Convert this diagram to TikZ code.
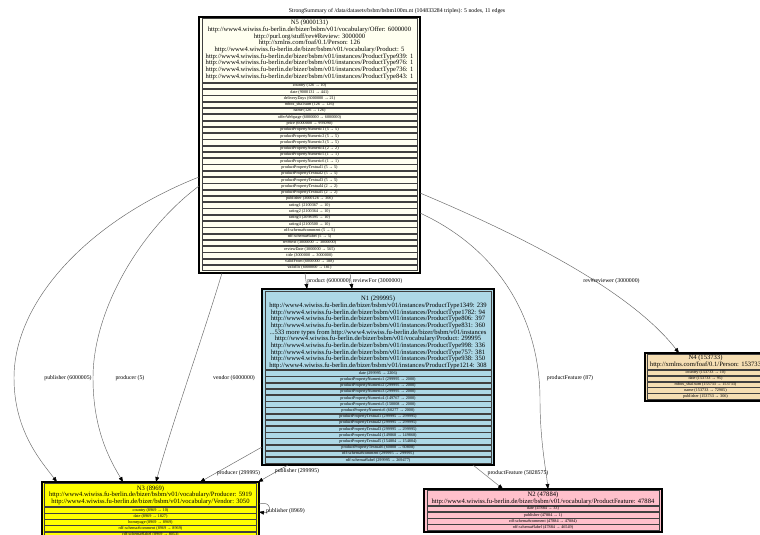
\documentclass[tikz,border=0pt]{standalone}
\usepackage{fontspec}
\setmainfont{Liberation Serif}
\usetikzlibrary{arrows.meta,calc}
\definecolor{cN5}{HTML}{FFFFF0}
\definecolor{cN1}{HTML}{ADD8E6}
\definecolor{cN4}{HTML}{F5DEB3}
\definecolor{cN3}{HTML}{FFFF00}
\definecolor{cN2}{HTML}{FFC0CB}
\newcommand\hdrfont{\fontsize{6.6}{6.7}\selectfont}
\newcommand\rowfont{\fontsize{4.2}{5}\selectfont}
\newcommand\lblfont{\fontsize{5.8}{6.5}\selectfont}
\begin{document}
\begin{tikzpicture}[x=1pt,y=-1pt,
  outerbox/.style={draw=black, line width=2.4pt, inner sep=0pt, outer sep=0pt},
  cellbox/.style={draw=black!75, line width=0.5pt, inner sep=0pt, outer sep=0pt},
  rowcell/.style={cellbox, minimum height=5.5pt, font=\rowfont},
  hdrtext/.style={inner sep=0pt, align=center, font=\hdrfont},
  elabel/.style={inner sep=0pt, font=\lblfont},
  conn/.style={draw=black!60, line width=0.45pt, -{Triangle[length=5pt,width=3.8pt,color=black]}}
]
\useasboundingbox (0,0) rectangle (760,535);
\clip (0,0) rectangle (760,535);
\fill[white] (0,0) rectangle (760,535);

\node[elabel, font=\lblfont] (ttl) at (397,11.5) {StrongSummary of /data/datasets/bsbm/bsbm100m.nt (104833284 triples): 5 nodes, 11 edges};

% ---------- N5 ----------
\node[outerbox, fill=cN5, minimum width=221pt, minimum height=256pt] (n5) at (309.5,145) {};
\node[cellbox, fill=cN5, minimum width=214.6pt, minimum height=63.8pt] (n5hc) at (309.5,50.5) {};
\node[hdrtext] (n5h) at (309.5,50) {N5 (9000131)\\
http://www4.wiwiss.fu-berlin.de/bizer/bsbm/v01/vocabulary/Offer: 6000000\\
http://purl.org/stuff/rev\#Review: 3000000\\
http://xmlns.com/foaf/0.1/Person: 126\\
http://www4.wiwiss.fu-berlin.de/bizer/bsbm/v01/vocabulary/Product: 5\\
http://www4.wiwiss.fu-berlin.de/bizer/bsbm/v01/instances/ProductType939: 1\\
http://www4.wiwiss.fu-berlin.de/bizer/bsbm/v01/instances/ProductType976: 1\\
http://www4.wiwiss.fu-berlin.de/bizer/bsbm/v01/instances/ProductType736: 1\\
http://www4.wiwiss.fu-berlin.de/bizer/bsbm/v01/instances/ProductType843: 1};
\foreach \t [count=\i from 0] in {
{country (126 → 10)},
{date (9000131 → 441)},
{deliveryDays (6000000 → 21)},
{mbox\_sha1sum (126 → 126)},
{name (126 → 126)},
{offerWebpage (6000000 → 6000000)},
{price (6000000 → 993090)},
{productPropertyNumeric1 (5 → 5)},
{productPropertyNumeric2 (5 → 5)},
{productPropertyNumeric3 (5 → 5)},
{productPropertyNumeric4 (2 → 2)},
{productPropertyNumeric5 (1 → 1)},
{productPropertyNumeric6 (1 → 1)},
{productPropertyTextual1 (5 → 5)},
{productPropertyTextual2 (5 → 5)},
{productPropertyTextual3 (5 → 5)},
{productPropertyTextual4 (2 → 2)},
{productPropertyTextual5 (2 → 2)},
{publisher (3000126 → 306)},
{rating1 (2100367 → 10)},
{rating2 (2100364 → 10)},
{rating3 (2098395 → 10)},
{rating4 (2100500 → 10)},
{rdf-schema\#comment (5 → 5)},
{rdf-schema\#label (5 → 5)},
{rev\#text (3000000 → 3000000)},
{reviewDate (3000000 → 565)},
{title (3000000 → 3000000)},
{validFrom (6000000 → 188)},
{validTo (6000000 → 181)}}
  \node[rowcell, fill=cN5, minimum width=214.6pt] (n5r\i) at (309.5,{85.85+6.28*\i}) {\t};

% ---------- N1 ----------
\node[outerbox, fill=cN1, minimum width=232pt, minimum height=176pt] (n1) at (378,377) {};
\node[cellbox, fill=cN1, minimum width=225.6pt, minimum height=78.9pt] (n1hc) at (378,330.25) {};
\node[hdrtext] (n1h) at (378,332.6) {N1 (299995)\\
http://www4.wiwiss.fu-berlin.de/bizer/bsbm/v01/instances/ProductType1349: 239\\
http://www4.wiwiss.fu-berlin.de/bizer/bsbm/v01/instances/ProductType1782: 94\\
http://www4.wiwiss.fu-berlin.de/bizer/bsbm/v01/instances/ProductType806: 397\\
http://www4.wiwiss.fu-berlin.de/bizer/bsbm/v01/instances/ProductType831: 360\\
...533 more types from http://www4.wiwiss.fu-berlin.de/bizer/bsbm/v01/instances\\
http://www4.wiwiss.fu-berlin.de/bizer/bsbm/v01/vocabulary/Product: 299995\\
http://www4.wiwiss.fu-berlin.de/bizer/bsbm/v01/instances/ProductType998: 336\\
http://www4.wiwiss.fu-berlin.de/bizer/bsbm/v01/instances/ProductType757: 381\\
http://www4.wiwiss.fu-berlin.de/bizer/bsbm/v01/instances/ProductType938: 350\\
http://www4.wiwiss.fu-berlin.de/bizer/bsbm/v01/instances/ProductType1214: 308};
\foreach \t [count=\i from 0] in {
{date (299995 → 2206)},
{productPropertyNumeric1 (299995 → 2000)},
{productPropertyNumeric2 (299995 → 2000)},
{productPropertyNumeric3 (299995 → 2000)},
{productPropertyNumeric4 (149767 → 2000)},
{productPropertyNumeric5 (150008 → 2000)},
{productPropertyNumeric6 (60277 → 2000)},
{productPropertyTextual1 (299995 → 299995)},
{productPropertyTextual2 (299995 → 299995)},
{productPropertyTextual3 (299995 → 299995)},
{productPropertyTextual4 (149868 → 149868)},
{productPropertyTextual5 (154804 → 154804)},
{productPropertyTextual6 (60808 → 60808)},
{rdf-schema\#comment (299995 → 299995)},
{rdf-schema\#label (299995 → 269477)}}
  \node[rowcell, fill=cN1, minimum width=225.6pt] (n1r\i) at (378,{373.25+6.2*\i}) {\t};

% ---------- N4 ----------
\node[outerbox, fill=cN4, minimum width=121pt, minimum height=48pt] (n4) at (705.5,377) {};
\node[cellbox, fill=cN4, minimum width=115.6pt, minimum height=15.2pt] (n4hc) at (705.5,362) {};
\node[hdrtext] (n4h) at (705.5,361.6) {N4 (153733)\\ http://xmlns.com/foaf/0.1/Person: 153733};
\foreach \t [count=\i from 0] in {
{country (153733 → 10)},
{date (153733 → 95)},
{mbox\_sha1sum (153733 → 153733)},
{name (153733 → 72905)},
{publisher (153733 → 306)}}
  \node[rowcell, fill=cN4, minimum width=115.6pt] (n4r\i) at (705.5,{372.7+5.9*\i}) {\t};

% ---------- N3 ----------
\node[outerbox, fill=cN3, minimum width=217pt, minimum height=59pt] (n3) at (150.5,511.5) {};
\node[cellbox, fill=cN3, minimum width=211.6pt, minimum height=22.9pt] (n3hc) at (150.5,495.05) {};
\node[hdrtext] (n3h) at (150.5,495.2) {N3 (8969)\\
http://www4.wiwiss.fu-berlin.de/bizer/bsbm/v01/vocabulary/Producer: 5919\\
http://www4.wiwiss.fu-berlin.de/bizer/bsbm/v01/vocabulary/Vendor: 3050};
\foreach \t [count=\i from 0] in {
{country (8969 → 10)},
{date (8969 → 1827)},
{homepage (8969 → 8969)},
{rdf-schema\#comment (8969 → 8969)},
{rdf-schema\#label (8969 → 8053)}}
  \node[rowcell, fill=cN3, minimum width=211.6pt] (n3r\i) at (150.5,{510+6.15*\i}) {\t};

% ---------- N2 ----------
\node[outerbox, fill=cN2, minimum width=238pt, minimum height=43pt] (n2) at (543,510.5) {};
\node[cellbox, fill=cN2, minimum width=231.6pt, minimum height=15pt] (n2hc) at (543,498.1) {};
\node[hdrtext] (n2h) at (543,498.4) {N2 (47884)\\ http://www4.wiwiss.fu-berlin.de/bizer/bsbm/v01/vocabulary/ProductFeature: 47884};
\foreach \t [count=\i from 0] in {
{date (47884 → 33)},
{publisher (47884 → 1)},
{rdf-schema\#comment (47884 → 47884)},
{rdf-schema\#label (47884 → 46549)}}
  \node[rowcell, fill=cN2, minimum width=231.6pt] (n2r\i) at (543,{508.8+6.2*\i}) {\t};

% ---------- edges ----------
\draw[conn] ($(n5.north west)+(0,160)$) .. controls (90,220) and (14,300) .. (14,378)
  .. controls (14,430) and (40,460) .. ($(n3.north west)+(15,0)$);
\node[elabel] (e1) at (68,378) {publisher (6000005)};

\draw[conn] ($(n5.north west)+(0,169)$) .. controls (140,230) and (93,310) .. (93,378)
  .. controls (93,430) and (110,460) .. ($(n3.north west)+(81,0)$);
\node[elabel] (e2) at (130,378) {producer (5)};

\draw[conn] ($(n5.south west)+(23,0)$) .. controls (205,330) and (170,430) .. ($(n3.north west)+(114,0)$);
\node[elabel] (e3) at (234,378) {vendor (6000000)};

\draw[conn] ($(n5.south)+(-4.5,0)$) -- ($(n1.north west)+(45,0)$);
\node[elabel] (e4) at (329,281) {product (6000000)};

\draw[conn] ($(n5.south)+(40.5,0)$) -- ($(n1.north west)+(90,0)$);
\node[elabel] (e5) at (377.5,281) {reviewFor (3000000)};

\draw[conn] ($(n5.north east)+(0,176)$) .. controls (520,235) and (630,290) .. ($(n4.north west)+(34,0)$);
\node[elabel] (e6) at (611.5,281) {rev\#reviewer (3000000)};

\draw[conn] ($(n5.north east)+(0,196)$) .. controls (500,250) and (540,320) .. (540,400)
  .. controls (540,440) and (546,470) .. ($(n2.north west)+(124,0)$);
\node[elabel] (e7) at (570,378) {productFeature (87)};

\draw[conn] ($(n1.north west)+(0,158)$) -- ($(n3.north west)+(158,0)$);
\node[elabel] (e8) at (238.5,473) {producer (299995)};

\draw[conn] ($(n1.south west)+(26,0)$) -- ($(n3.north east)+(-1,0)$);
\node[elabel] (e9) at (297,471) {publisher (299995)};

\draw[conn] ($(n1.south west)+(211,0)$) -- ($(n2.north west)+(79,0)$);
\node[elabel] (e10) at (518,473) {productFeature (5828575)};

\draw[conn] ($(n3.north east)+(0,22)$) .. controls (272,500) and (272,514) .. ($(n3.north east)+(0,30)$);
\node[elabel, anchor=west] (e11) at (266,511) {publisher (8969)};
\end{tikzpicture}
\end{document}
